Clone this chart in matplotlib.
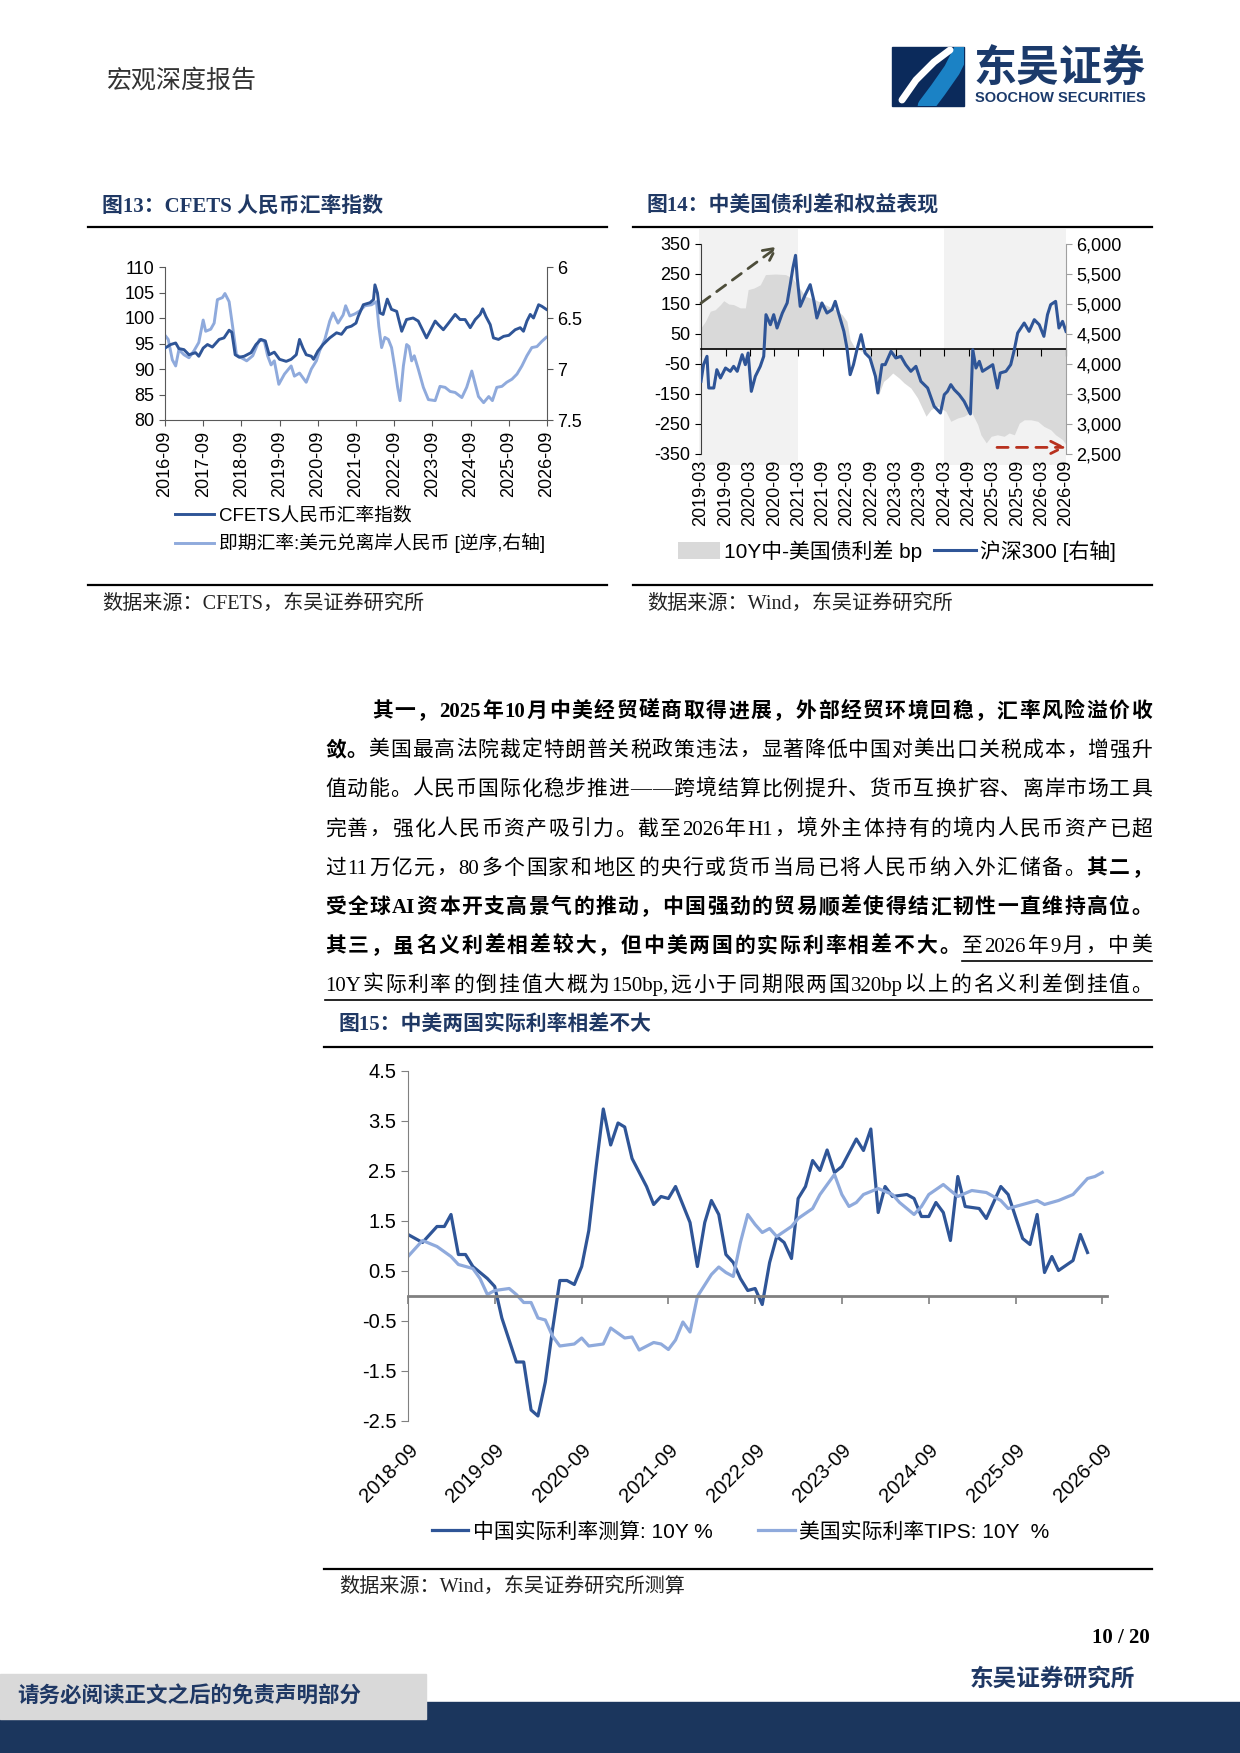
import matplotlib
matplotlib.use('Agg')
import matplotlib.pyplot as plt
import matplotlib.dates as mdates
from matplotlib.patches import Rectangle
import pandas as pd

plt.rcParams['font.family'] = ['Liberation Sans', 'Noto Sans CJK SC']
plt.rcParams['axes.unicode_minus'] = False

SERIF = ['Liberation Serif', 'Noto Sans CJK SC']
NAVY = '#1F3864'
DARK = '#2F5597'
LIGHT = '#8FAADC'
GRID = '#808080'

# ---- 图13 data ----
cfets_dates = ['2016-09-01', '2016-10-25', '2016-12-12', '2017-01-12', '2017-03-01', '2017-04-18',
               '2017-06-21', '2017-07-21', '2017-09-01', '2017-10-12', '2017-11-28', '2018-02-01',
               '2018-03-19', '2018-05-07', '2018-06-02', '2018-07-04', '2018-08-12', '2018-09-28',
               '2018-12-02', '2019-01-19', '2019-03-07', '2019-04-18', '2019-05-25', '2019-07-13',
               '2019-09-01', '2019-11-04', '2019-12-21', '2020-02-08', '2020-03-10', '2020-04-12',
               '2020-05-13', '2020-07-01', '2020-07-22', '2020-09-01', '2020-10-21', '2020-12-24',
               '2021-02-27', '2021-04-15', '2021-06-02', '2021-07-19', '2021-09-01', '2021-09-22',
               '2021-11-10', '2022-01-13', '2022-02-15', '2022-03-01', '2022-03-25', '2022-04-18',
               '2022-05-18', '2022-06-27', '2022-08-06', '2022-09-25', '2022-11-12', '2022-12-28',
               '2023-03-01', '2023-04-19', '2023-07-07', '2023-09-28', '2023-10-28', '2023-12-15',
               '2024-02-03', '2024-04-06', '2024-05-22', '2024-07-10', '2024-08-28', '2024-10-15',
               '2024-12-01', '2024-12-25', '2025-01-25', '2025-03-07', '2025-04-07', '2025-05-25',
               '2025-07-13', '2025-09-01', '2025-11-01', '2025-12-19', '2026-01-19', '2026-02-21',
               '2026-03-25', '2026-04-25', '2026-06-13', '2026-07-13', '2026-08-25']
cfets_vals = [94.1, 94.8, 95.1, 94.0, 93.8, 92.8,
              93.2, 92.5, 94.1, 94.8, 94.3, 95.8,
              96.1, 97.6, 97.2, 92.8, 92.3, 92.5,
              93.2, 94.8, 95.8, 95.5, 92.8, 93.3,
              91.9, 91.5, 91.9, 92.8, 95.8, 94.1,
              92.8, 92.5, 91.9, 93.5, 94.8, 96.1,
              97.1, 96.8, 98.1, 98.4, 99.0, 100.3,
              102.6, 103.0, 103.6, 106.5, 104.9, 101.0,
              100.7, 103.7, 101.7, 101.3, 97.4, 99.7,
              100.0, 99.4, 96.1, 99.4, 98.7, 97.7,
              99.0, 100.7, 99.7, 99.7, 98.1, 99.7,
              100.7, 101.8, 100.3, 98.7, 96.1, 95.8,
              96.4, 96.6, 97.7, 98.1, 97.4, 99.4,
              100.7, 100.0, 102.6, 102.3, 101.7]

cnh_dates = ['2016-09-01', '2016-10-02', '2016-11-10', '2016-12-12', '2017-01-12', '2017-03-01',
             '2017-04-18', '2017-06-06', '2017-07-21', '2017-09-01', '2017-09-25', '2017-11-12',
             '2017-12-15', '2018-01-15', '2018-03-04', '2018-03-28', '2018-05-07', '2018-06-09',
             '2018-07-16', '2018-09-01', '2018-10-22', '2018-12-19', '2019-02-21', '2019-04-09',
             '2019-05-10', '2019-06-12', '2019-07-13', '2019-08-25', '2019-10-18', '2019-12-21',
             '2020-01-21', '2020-03-10', '2020-05-13', '2020-07-01', '2020-08-18', '2020-09-19',
             '2020-11-07', '2020-12-24', '2021-01-25', '2021-03-13', '2021-05-01', '2021-05-25',
             '2021-07-04', '2021-08-21', '2021-10-09', '2021-11-25', '2022-01-28', '2022-03-16',
             '2022-04-07', '2022-05-04', '2022-06-04', '2022-07-07', '2022-08-07', '2022-09-09',
             '2022-10-04', '2022-10-27', '2022-11-28', '2022-12-29', '2023-01-21', '2023-02-15',
             '2023-03-12', '2023-04-19', '2023-06-07', '2023-07-25', '2023-09-28', '2023-11-13',
             '2024-01-01', '2024-02-18', '2024-04-06', '2024-06-09', '2024-07-25', '2024-09-12',
             '2024-10-15', '2024-11-15', '2025-01-03', '2025-02-21', '2025-03-28', '2025-05-09',
             '2025-06-27', '2025-08-12', '2025-10-01', '2025-11-18', '2026-01-04', '2026-02-21',
             '2026-04-09', '2026-05-28', '2026-07-13', '2026-08-25']
cnh_vals = [6.67, 6.71, 6.91, 6.97, 6.81, 6.86,
            6.89, 6.82, 6.74, 6.52, 6.63, 6.61,
            6.55, 6.32, 6.30, 6.26, 6.34, 6.58,
            6.86, 6.89, 6.92, 6.87, 6.71, 6.73,
            6.87, 6.96, 6.92, 7.15, 7.05, 6.97,
            7.07, 7.04, 7.13, 7.00, 6.92, 6.82,
            6.71, 6.53, 6.45, 6.55, 6.47, 6.38,
            6.48, 6.46, 6.43, 6.38, 6.37, 6.34,
            6.58, 6.79, 6.69, 6.71, 6.79, 7.00,
            7.18, 7.31, 6.97, 6.76, 6.78, 6.92,
            6.87, 7.00, 7.18, 7.30, 7.31, 7.17,
            7.18, 7.22, 7.23, 7.28, 7.18, 7.02,
            7.15, 7.27, 7.33, 7.27, 7.31, 7.18,
            7.17, 7.13, 7.10, 7.05, 6.97, 6.87,
            6.79, 6.78, 6.73, 6.69]

# ---- 图14 data ----
spread_dates = ['2019-02-12', '2019-04-03', '2019-05-10', '2019-06-16', '2019-07-25', '2019-08-19',
                '2019-09-25', '2019-11-01', '2019-12-21', '2020-01-28', '2020-02-18', '2020-04-01',
                '2020-05-19', '2020-06-27', '2020-09-10', '2020-11-25', '2021-01-13', '2021-02-21',
                '2021-04-22', '2021-07-06', '2021-09-19', '2021-12-03', '2022-01-25', '2022-03-01',
                '2022-03-25', '2022-05-01', '2022-06-21', '2022-08-10', '2022-10-01', '2022-10-25',
                '2022-12-01', '2023-01-01', '2023-02-08', '2023-03-28', '2023-05-04', '2023-06-24',
                '2023-08-13', '2023-10-16', '2023-11-22', '2024-01-11', '2024-03-13', '2024-04-19',
                '2024-06-09', '2024-07-28', '2024-09-19', '2024-11-07', '2024-12-01', '2025-01-10',
                '2025-02-16', '2025-04-04', '2025-05-25', '2025-07-01', '2025-08-09', '2025-09-15',
                '2025-10-22', '2025-12-12', '2026-02-01', '2026-03-19', '2026-05-09', '2026-06-15',
                '2026-08-06', '2026-09-01']
spread_vals = [60, 92, 126, 131, 148, 161,
               150, 148, 137, 137, 198, 203,
               214, 248, 250, 248, 237, 214,
               176, 164, 148, 131, 114, 92,
               31, 3, -8, -24, -97, -152,
               -108, -97, -80, -97, -113, -130,
               -163, -224, -202, -191, -208, -241,
               -230, -224, -208, -252, -286, -313,
               -291, -286, -291, -280, -286, -247,
               -236, -236, -241, -258, -269, -286,
               -302, -319]

hs300_dates = ['2019-03-01', '2019-03-20', '2019-04-15', '2019-04-28', '2019-06-05', '2019-06-28',
               '2019-07-25', '2019-09-01', '2019-10-07', '2019-11-01', '2019-11-28', '2020-01-04',
               '2020-01-28', '2020-02-18', '2020-03-13', '2020-04-12', '2020-05-19', '2020-06-14',
               '2020-07-01', '2020-08-03', '2020-08-28', '2020-09-22', '2020-11-01', '2020-12-07',
               '2021-01-01', '2021-01-19', '2021-02-08', '2021-02-21', '2021-03-15', '2021-04-22',
               '2021-05-29', '2021-06-24', '2021-07-18', '2021-08-25', '2021-10-02', '2021-11-09',
               '2021-12-03', '2021-12-28', '2022-02-06', '2022-03-01', '2022-03-25', '2022-04-19',
               '2022-05-15', '2022-06-15', '2022-07-15', '2022-08-21', '2022-10-01', '2022-10-19',
               '2022-11-19', '2022-12-13', '2023-01-26', '2023-03-03', '2023-04-10', '2023-05-16',
               '2023-06-24', '2023-08-01', '2023-09-07', '2023-10-28', '2023-12-16', '2024-02-01',
               '2024-03-01', '2024-03-25', '2024-04-19', '2024-05-15', '2024-06-21', '2024-07-28',
               '2024-09-13', '2024-10-01', '2024-10-25', '2024-11-19', '2024-12-13', '2025-01-21',
               '2025-02-28', '2025-04-04', '2025-04-25', '2025-06-07', '2025-07-13', '2025-08-09',
               '2025-09-03', '2025-10-22', '2025-11-28', '2026-01-06', '2026-02-12', '2026-03-19',
               '2026-04-15', '2026-05-09', '2026-06-15', '2026-07-10', '2026-08-06', '2026-09-01']
hs300_vals = [3711, 3989, 4128, 3600, 3600, 3905,
              3767, 3933, 3878, 3961, 3878, 4155,
              3989, 4183, 3544, 3794, 3961, 4128,
              4822, 4655, 4822, 4600, 4850, 5017,
              5350, 5600, 5811, 5433, 4961, 5155,
              5322, 5072, 4767, 5017, 4850, 4905,
              5044, 4850, 4544, 4267, 3822, 3989,
              4239, 4489, 4183, 4100, 3794, 3517,
              3989, 3989, 4211, 4100, 4128, 3989,
              3878, 3961, 3711, 3600, 3294, 3183,
              3489, 3544, 3656, 3572, 3489, 3378,
              3167, 4239, 3933, 4044, 3878, 3933,
              3989, 3600, 3850, 3878, 3989, 4239,
              4517, 4683, 4544, 4739, 4655, 4461,
              4822, 4989, 5044, 4600, 4711, 4544]

shade_periods = [('2019-02-15', '2021-03-01'), ('2024-03-01', '2026-09-01')]
arrow_up = [('2019-03-01', 153), ('2020-10-01', 342)]
arrow_right = [('2025-04-01', -328), ('2026-09-01', -328)]

# ---- 图15 data ----
cn_months = ['2018-09', '2018-11', '2019-01', '2019-02', '2019-03', '2019-04', '2019-05',
             '2019-06', '2019-08', '2019-09', '2019-10', '2019-12', '2020-01', '2020-02',
             '2020-03', '2020-04', '2020-05', '2020-06', '2020-07', '2020-08', '2020-09',
             '2020-10', '2020-11', '2020-12', '2021-01', '2021-02', '2021-03', '2021-04',
             '2021-06', '2021-07', '2021-08', '2021-09', '2021-10', '2021-12', '2022-01',
             '2022-02', '2022-03', '2022-04', '2022-05', '2022-06', '2022-07', '2022-08',
             '2022-09', '2022-10', '2022-11', '2022-12', '2023-01', '2023-02', '2023-03',
             '2023-04', '2023-05', '2023-06', '2023-07', '2023-08', '2023-09', '2023-11',
             '2023-12', '2024-01', '2024-02', '2024-03', '2024-04', '2024-06', '2024-07',
             '2024-08', '2024-09', '2024-10', '2024-11', '2024-12', '2025-01', '2025-02',
             '2025-04', '2025-05', '2025-07', '2025-08', '2025-10', '2025-11', '2025-12',
             '2026-01', '2026-02', '2026-03', '2026-05', '2026-06', '2026-07']
cn_vals = [1.23, 1.07, 1.39, 1.39, 1.63, 0.83, 0.83,
           0.59, 0.35, 0.19, -0.44, -1.32, -1.32, -2.28,
           -2.40, -1.72, -0.68, 0.31, 0.31, 0.23, 0.59,
           1.31, 2.59, 3.74, 3.02, 3.46, 3.38, 2.75,
           2.19, 1.83, 1.99, 1.95, 2.19, 1.47, 0.59,
           1.47, 1.91, 1.63, 0.83, 0.67, 0.35, 0.11,
           0.15, -0.17, 0.67, 1.19, 1.07, 0.75, 1.95,
           2.19, 2.71, 2.51, 2.92, 2.47, 2.59, 3.14,
           2.91, 3.34, 1.67, 2.19, 1.99, 2.03, 1.95,
           1.59, 1.59, 1.87, 1.67, 1.11, 2.39, 1.79,
           1.75, 1.55, 2.19, 2.03, 1.15, 1.03, 1.63,
           0.47, 0.79, 0.51, 0.71, 1.23, 0.87]

us_months = ['2018-09', '2018-11', '2019-01', '2019-03', '2019-04', '2019-06', '2019-07',
             '2019-08', '2019-09', '2019-11', '2019-12', '2020-01', '2020-02', '2020-03',
             '2020-04', '2020-05', '2020-06', '2020-08', '2020-09', '2020-10', '2020-12',
             '2021-01', '2021-03', '2021-04', '2021-05', '2021-07', '2021-08', '2021-09',
             '2021-10', '2021-11', '2021-12', '2022-01', '2022-03', '2022-04', '2022-05',
             '2022-06', '2022-07', '2022-08', '2022-09', '2022-10', '2022-11', '2022-12',
             '2023-02', '2023-03', '2023-05', '2023-06', '2023-08', '2023-09', '2023-10',
             '2023-11', '2023-12', '2024-02', '2024-04', '2024-05', '2024-07', '2024-08',
             '2024-09', '2024-11', '2024-12', '2025-01', '2025-03', '2025-05', '2025-07',
             '2025-08', '2025-10', '2025-12', '2026-01', '2026-03', '2026-05', '2026-07',
             '2026-08', '2026-09']
us_vals = [0.79, 1.11, 0.99, 0.79, 0.63, 0.55, 0.35,
           0.03, 0.11, 0.15, 0.03, -0.13, -0.13, -0.44,
           -0.48, -0.80, -1.00, -0.96, -0.84, -1.00, -0.96,
           -0.64, -0.84, -0.82, -1.08, -0.93, -0.96, -1.07,
           -0.88, -0.52, -0.72, -0.01, 0.43, 0.58, 0.47,
           0.39, 1.07, 1.63, 1.43, 1.27, 1.35, 1.19,
           1.39, 1.55, 1.75, 2.03, 2.43, 2.03, 1.79,
           1.87, 2.03, 2.15, 2.03, 1.87, 1.63, 1.79,
           2.03, 2.23, 2.11, 1.99, 2.11, 2.07, 1.91,
           1.75, 1.83, 1.91, 1.83, 1.91, 2.03, 2.35,
           2.39, 2.47]

# ---- text ----
para_lines = [
    [("其一，2025 年 10 月中美经贸磋商取得进展，外部经贸环境回稳，汇率风险溢价收", 'b')],
    [("敛。", 'b'), ("美国最高法院裁定特朗普关税政策违法，显著降低中国对美出口关税成本，增强升", 'n')],
    [("值动能。人民币国际化稳步推进——跨境结算比例提升、货币互换扩容、离岸市场工具", 'n')],
    [("完善，强化人民币资产吸引力。截至 2026 年 H1，境外主体持有的境内人民币资产已超", 'n')],
    [("过 11 万亿元，80 多个国家和地区的央行或货币当局已将人民币纳入外汇储备。", 'n'), ("其二，", 'b')],
    [("受全球 AI 资本开支高景气的推动，中国强劲的贸易顺差使得结汇韧性一直维持高位。", 'b')],
    [("其三，虽名义利差相差较大，但中美两国的实际利率相差不大。", 'b'), ("至 2026 年 9 月，中美", 'u')],
    [("10Y 实际利率的倒挂值大概为 150bp,远小于同期限两国 320bp 以上的名义利差倒挂值。", 'u')],
]
para_x0 = [372, 325, 325, 325, 325, 325, 325, 325]
para_y = [712, 751, 790, 830, 869, 908, 947, 986]

fig = plt.figure(figsize=(12.4, 17.53), dpi=100)

# overlay in pixel coordinates for page decorations
ov = fig.add_axes([0, 0, 1, 1])
ov.set_xlim(0, 1240)
ov.set_ylim(1753, 0)
ov.axis('off')


def fr(x0, y0, x1, y1):
    return [x0 / 1240, 1 - y1 / 1753, (x1 - x0) / 1240, (y1 - y0) / 1753]


# header
ov.text(106, 81, '宏观深度报告', fontsize=18, color='#333333', va='center', family=['Noto Sans CJK SC'])
logo = Rectangle((892, 47), 72, 59, color='#0B2A5B')
ov.add_patch(logo)
c1, = ov.plot([962, 952, 938, 926], [50, 70, 90, 106], color='#1B82C5', lw=12, solid_capstyle='round')
c2, = ov.plot([902, 916, 934, 950], [100, 80, 62, 50], color='white', lw=5, solid_capstyle='round')
c1.set_clip_path(logo)
c2.set_clip_path(logo)
ov.text(1060, 68, '东吴证券', fontsize=31, color='#1B3A6B', ha='center', va='center',
        family=['Noto Sans CJK SC'], weight='bold')
ov.text(1060, 98, 'SOOCHOW SECURITIES', fontsize=10.5, color='#1B3A6B', ha='center', va='center',
        weight='bold')

# titles / rules / sources
for (x0, x1), title, src in [((88, 607), '图13：CFETS 人民币汇率指数', '数据来源：CFETS，东吴证券研究所'),
                             ((633, 1152), '图14：中美国债利差和权益表现', '数据来源：Wind，东吴证券研究所')]:
    ov.text(x0 + 14, 206, title, fontsize=15, weight='bold', color=NAVY, va='center', family=SERIF)
    ov.plot([x0, x1], [227, 227], color='black', lw=1.6)
    ov.plot([x0, x1], [585, 585], color='black', lw=1.6)
    ov.text(x0 + 14, 604, src, fontsize=14.5, color='#222222', va='center', family=SERIF)

ov.text(339, 1025, '图15：中美两国实际利率相差不大', fontsize=15, weight='bold', color=NAVY, va='center', family=SERIF)
ov.plot([324, 1152], [1047, 1047], color='black', lw=1.6)
ov.plot([324, 1152], [1569, 1569], color='black', lw=1.6)
ov.text(339, 1587, '数据来源：Wind，东吴证券研究所测算', fontsize=14.5, color='#222222', va='center', family=SERIF)

# paragraph, justified token by token
BODY_FS = 15
r = fig.canvas.get_renderer()


def tokenize(s):
    out, buf = [], ''
    for ch in s:
        if ord(ch) < 128 and ch != ' ':
            buf += ch
        else:
            if buf:
                out.append(buf)
                buf = ''
            if ch != ' ':
                out.append(ch)
    if buf:
        out.append(buf)
    return out


def tw(tok, bold):
    t = ov.text(0, 0, tok, fontsize=BODY_FS, family=SERIF, weight='bold' if bold else 'normal')
    w = t.get_window_extent(renderer=r).width
    t.remove()
    return w


for segs, x0, y in zip(para_lines, para_x0, para_y):
    toks = []
    for s, style in segs:
        for tk in tokenize(s):
            toks.append((tk, style))
    widths = [tw(tk, st == 'b') for tk, st in toks]
    gap = (1152 - x0 - sum(widths)) / (len(toks) - 1)
    x = x0
    ustart = None
    for (tk, st), w in zip(toks, widths):
        ov.text(x, y, tk, fontsize=BODY_FS, family=SERIF, weight='bold' if st == 'b' else 'normal',
                va='center', ha='left', color='black')
        if st == 'u' and ustart is None:
            ustart = x
        x += w + gap
    if ustart is not None:
        ov.plot([ustart, 1152], [y + 14, y + 14], color='black', lw=1.2)

# footer
ov.add_patch(Rectangle((0, 1702), 1240, 51, color='#1B365D'))
ov.add_patch(Rectangle((0, 1674), 426, 45, color='#D9D9D9'))
ov.text(17, 1697, '请务必阅读正文之后的免责声明部分', fontsize=15.5, weight='bold', color=NAVY,
        va='center', family=SERIF)
ov.text(1150, 1638, '10 / 20', fontsize=15, weight='bold', ha='right', va='center', family=SERIF)
ov.text(1135, 1679, '东吴证券研究所', fontsize=17, weight='bold', color=NAVY, ha='right', va='center',
        family=SERIF)

# ================= 图13 =================
ax1 = fig.add_axes(fr(165, 267, 547, 420))
ax1.set_facecolor('none')
l1, = ax1.plot(pd.to_datetime(cfets_dates), cfets_vals, color=DARK, lw=2.1,
               label='CFETS人民币汇率指数', zorder=3)
ax1.set_ylim(80, 110)
ax1.set_yticks(range(80, 111, 5))
t13 = pd.date_range('2016-09-01', '2026-09-01', freq='12MS')
ax1.set_xlim(t13[0], t13[-1])
ax1.set_xticks(t13)
ax1.set_xticklabels([d.strftime('%Y-%m') for d in t13], rotation=90)
ax1r = ax1.twinx()
l2, = ax1r.plot(pd.to_datetime(cnh_dates), cnh_vals, color=LIGHT, lw=2.1,
                label='即期汇率:美元兑离岸人民币 [逆序,右轴]')
ax1r.set_ylim(7.5, 6)
ax1r.set_yticks([6, 6.5, 7, 7.5])
ax1r.set_yticklabels(['6', '6.5', '7', '7.5'])
ax1.set_zorder(ax1r.get_zorder() + 1)
for a in (ax1, ax1r):
    a.spines['top'].set_visible(False)
    for s in a.spines.values():
        s.set_color('#595959')
    a.tick_params(labelsize=13, color='#595959', length=4)
ax1.spines['right'].set_visible(False)
ax1r.spines['left'].set_visible(False)
ax1r.spines['bottom'].set_visible(False)
ax1.legend([l1, l2], [l1.get_label(), l2.get_label()], loc='upper left',
           bbox_to_anchor=(175 / 1240, 1 - 507 / 1753), bbox_transform=fig.transFigure,
           frameon=False, fontsize=13.5, handlelength=2.1, labelspacing=0.45, borderaxespad=0,
           handletextpad=0.25, borderpad=0)

# ================= 图14 =================
ax2 = fig.add_axes(fr(701, 244, 1066, 454))
ax2.set_facecolor('none')
for a0, a1 in shade_periods:
    ax2.axvspan(pd.Timestamp(a0), pd.Timestamp(a1), ymin=-0.05, ymax=1.07, color='#F2F2F2',
                clip_on=False, zorder=0, lw=0)
sp_d = pd.to_datetime(spread_dates)
area = ax2.fill_between(sp_d, spread_vals, 0, color='#D9D9D9', lw=0, zorder=1,
                        label='10Y中-美国债利差 bp')
ax2.set_ylim(-350, 350)
ax2.set_yticks(range(-350, 351, 100))
t14 = pd.date_range('2019-03-01', '2026-09-01', freq='6MS')
ax2.set_xlim(t14[0], t14[-1])
ax2.set_xticks(t14)
ax2.tick_params(axis='x', labelbottom=False, direction='out', length=5, color='black')
ax2.spines['bottom'].set_position(('data', 0))
ax2.spines['bottom'].set_color('black')
ax2.spines['bottom'].set_linewidth(1.2)
ax2.spines['top'].set_visible(False)
ax2.spines['right'].set_visible(False)
ax2.spines['left'].set_color('#404040')
ax2.tick_params(axis='y', labelsize=13, length=4)
sec2 = ax2.secondary_xaxis(0)
sec2.set_xticks(mdates.date2num(t14))
sec2.set_xticklabels([d.strftime('%Y-%m') for d in t14], rotation=90, fontsize=13)
sec2.tick_params(length=0, pad=4)
sec2.spines['bottom'].set_visible(False)
for (xa, ya), (xb, yb), c in [(arrow_up[0], arrow_up[1], '#4D4D3A'),
                              (arrow_right[0], arrow_right[1], '#B8311E')]:
    ax2.annotate('', xy=(pd.Timestamp(xb), yb), xytext=(pd.Timestamp(xa), ya),
                 arrowprops=dict(arrowstyle='->', linestyle=(0, (4, 3)), color=c, lw=2,
                                 mutation_scale=22, shrinkA=0, shrinkB=0),
                 annotation_clip=False, zorder=5)
ax2r = ax2.twinx()
l3, = ax2r.plot(pd.to_datetime(hs300_dates), hs300_vals, color=DARK, lw=2.2,
                label='沪深300 [右轴]')
ax2r.set_ylim(2500, 6000)
ax2r.set_yticks(range(2500, 6001, 500))
ax2r.set_yticklabels([f'{v:,}' for v in range(2500, 6001, 500)])
ax2r.tick_params(labelsize=13, length=4, color='#A0A0A0')
for k in ('top', 'left', 'bottom'):
    ax2r.spines[k].set_visible(False)
ax2r.spines['right'].set_color('#A0A0A0')
ax2.legend([area, l3], [area.get_label(), l3.get_label()], loc='upper left',
           bbox_to_anchor=(678 / 1240, 1 - 540 / 1753), bbox_transform=fig.transFigure,
           ncol=2, frameon=False, fontsize=15, handlelength=2.0, handleheight=0.9,
           borderaxespad=0, handletextpad=0.2, columnspacing=0.6, borderpad=0)

# ================= 图15 =================
ax3 = fig.add_axes(fr(408, 1071, 1107, 1421))
ax3.set_facecolor('none')
l4, = ax3.plot(pd.to_datetime(cn_months, format='%Y-%m'), cn_vals, color=DARK, lw=2.3,
               label='中国实际利率测算: 10Y %')
l5, = ax3.plot(pd.to_datetime(us_months, format='%Y-%m'), us_vals, color=LIGHT, lw=2.3,
               label='美国实际利率TIPS: 10Y  %')
ax3.set_ylim(-2.5, 4.5)
ax3.set_yticks([4.5, 3.5, 2.5, 1.5, 0.5, -0.5, -1.5, -2.5])
ax3.set_yticklabels(['4.5', '3.5', '2.5', '1.5', '0.5', '-0.5', '-1.5', '-2.5'])
t15 = pd.date_range('2018-09-01', '2026-09-01', freq='12MS')
ax3.set_xlim(t15[0], t15[-1] + pd.Timedelta(days=20))
ax3.set_xticks(t15)
ax3.tick_params(axis='x', labelbottom=False, direction='out', length=6, color=GRID, width=1.2)
ax3.tick_params(axis='y', labelsize=14.5, length=5, color=GRID)
ax3.spines['bottom'].set_position(('data', 0))
ax3.spines['bottom'].set_color(GRID)
ax3.spines['bottom'].set_linewidth(2)
ax3.spines['left'].set_color(GRID)
ax3.spines['top'].set_visible(False)
ax3.spines['right'].set_visible(False)
sec3 = ax3.secondary_xaxis(0)
sec3.set_xticks(mdates.date2num(t15))
sec3.set_xticklabels([d.strftime('%Y-%m') for d in t15], rotation=45, ha='right',
                     rotation_mode='anchor', fontsize=14.5)
sec3.tick_params(length=0, pad=14)
sec3.spines['bottom'].set_visible(False)
ax3.legend(loc='upper left', bbox_to_anchor=(432 / 1240, 1 - 1522 / 1753), bbox_transform=fig.transFigure,
           ncol=2, frameon=False, fontsize=15, handlelength=1.75, borderaxespad=0,
           handletextpad=0.2, columnspacing=2.2, borderpad=0)

fig.savefig('out.png', dpi=100)
